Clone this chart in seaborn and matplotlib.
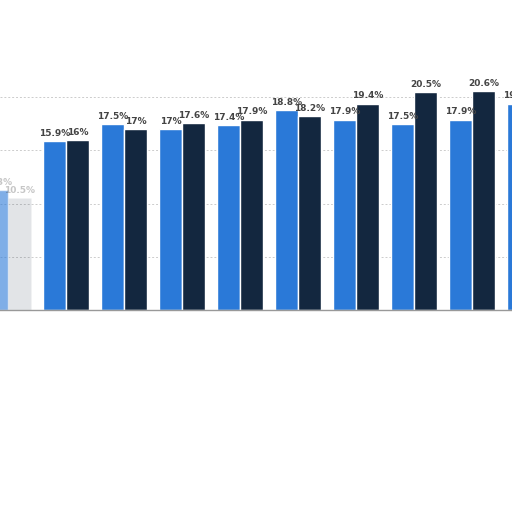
import matplotlib
matplotlib.use("Agg")
import matplotlib.pyplot as plt
import seaborn as sns
import pandas as pd
import numpy as np

# values (x labels are cut away in the reference)
years = ["2012", "2013", "2014", "2015", "2016", "2017", "2018", "2019", "2020", "2021"]
series_a = [11.3, 15.9, 17.5, 17.0, 17.4, 18.8, 17.9, 17.5, 17.9, 19.4]
series_b = [10.5, 16.0, 17.0, 17.6, 17.9, 18.2, 19.4, 20.5, 20.6, np.nan]
series_names = ["Series A", "Series B"]
colors = ["#2a79d8", "#13273f"]

df = pd.DataFrame({
    "year": years * 2,
    "share": series_a + series_b,
    "series": [series_names[0]] * len(years) + [series_names[1]] * len(years),
})

sns.set_style("white")
fig = plt.figure(figsize=(5.12, 5.12), dpi=100)
ax = fig.add_axes([0, 1 - 310 / 512, 1, 266 / 512])

sns.barplot(data=df, x="year", y="share", hue="series", order=years,
            hue_order=series_names, palette=colors, width=0.8,
            edgecolor="white", linewidth=1.0, saturation=1, legend=False, ax=ax)

# the first group is washed out in the reference
fade = [0.6, 0.12]
for k, cont in enumerate(ax.containers):
    cont.patches[0].set_alpha(fade[k])

for i, cont in enumerate(ax.containers):
    for j, p in enumerate(cont.patches):
        h = p.get_height()
        if np.isnan(h):
            continue
        txt = f"{h:g}%"
        ax.text(p.get_x() + p.get_width() / 2, h + 0.3, txt, ha="center", va="bottom",
                fontsize=6.5, fontweight="bold", color="#444444",
                alpha=0.3 if j == 0 else 1.0)

ax.set_xlim(-0.138, 8.69)
ax.set_ylim(0, 25)
ax.set_yticks([5, 10, 15, 20])
ax.yaxis.grid(True, linestyle=(0, (2, 2)), color="#cccccc", linewidth=0.7)
ax.set_axisbelow(True)
ax.tick_params(left=False, bottom=False, labelleft=False, labelbottom=False)
ax.set_xlabel("")
ax.set_ylabel("")
for s in ["top", "left", "right"]:
    ax.spines[s].set_visible(False)
ax.spines["bottom"].set_color("#999999")
ax.spines["bottom"].set_linewidth(1.0)

fig.savefig("out.png", dpi=100)
